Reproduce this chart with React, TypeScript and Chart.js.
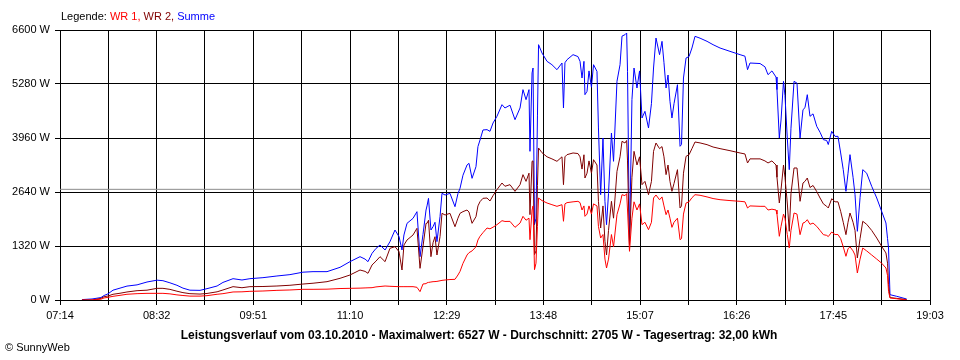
import React, { useEffect, useRef } from "react";
import { Chart, registerables } from "chart.js";

Chart.register(...registerables);

// minutes since midnight
const times = [
  451.9, 460.1, 467.4, 469.9, 473.1, 477.2, 482.9, 488.6, 496.8, 504.9,
  513.1, 517.9, 523.6, 529.3, 534.2, 539.9, 548.1, 553.8, 562.0, 566.8,
  575.0, 582.3, 588.8, 599.4, 610.8, 621.4, 632.0, 640.2, 651.6, 662.2,
  670.3, 678.5, 682.6, 685.0, 688.3, 691.5, 694.8, 698.9, 702.9, 707.0,
  710.3, 712.7, 714.3, 716.8, 721.7, 724.9, 727.4, 729.8, 732.3, 733.1,
  734.3, 736.3, 738.0, 739.6, 741.2, 743.7, 745.3, 747.8, 751.8, 755.9,
  758.3, 760.0, 762.4, 765.7, 767.3, 769.8, 773.0, 774.6, 776.3, 778.7,
  782.0, 784.4, 786.9, 790.1, 794.2, 796.6, 800.7, 804.8, 808.9, 811.3,
  813.8, 816.2, 817.0, 818.7, 819.5, 820.7, 821.9, 823.1, 824.0, 826.8,
  830.9, 834.9, 839.0, 843.1, 844.3, 845.5, 847.2, 852.1, 856.1, 857.8,
  859.4, 861.0, 861.8, 863.5, 865.1, 867.1, 868.8, 871.6, 872.8, 874.6,
  876.5, 878.1, 879.4, 881.0, 883.4, 885.1, 887.9, 890.4, 892.0, 894.4,
  895.8, 896.5, 898.1, 900.1, 901.8, 904.2, 906.3, 908.3, 910.7, 913.6,
  916.0, 917.7, 919.7, 922.6, 924.6, 926.2, 927.9, 929.5, 931.1, 932.7,
  934.4, 937.2, 939.3, 940.5, 942.1, 944.2, 946.6, 949.0, 951.5, 955.6,
  961.3, 966.2, 971.9, 980.0, 988.2, 992.2, 994.3, 996.3, 1004.5, 1008.5,
  1011.0, 1014.2, 1017.5, 1018.3, 1020.2, 1021.6, 1023.6, 1024.8, 1026.7, 1028.3,
  1029.7, 1032.2, 1034.6, 1037.1, 1039.5, 1041.1, 1043.0, 1045.2, 1047.7, 1050.7,
  1053.4, 1056.1, 1058.8, 1060.1, 1062.9, 1065.6, 1068.0, 1070.2, 1072.3, 1074.5,
  1076.2, 1077.8, 1080.3, 1081.9, 1083.8, 1086.0, 1088.2, 1091.4, 1095.5, 1099.6,
  1103.6, 1107.1, 1108.4, 1109.2, 1110.4, 1115.9, 1124.0,
];

const wr1 = [
  0, 0, 20, 50, 65, 90, 114, 140, 155, 163,
  163, 163, 150, 125, 110, 95, 95, 106, 140, 155,
  196, 200, 212, 220, 236, 245, 261, 261, 265, 280,
  285, 290, 295, 298, 301, 320, 330, 342, 335, 330,
  326, 326, 326, 326, 326, 310, 204, 391, 400, 420,
  430, 440, 448, 450, 455, 470, 480, 489, 500, 505,
  611, 700, 896, 1100, 1157, 1200, 1300, 1467, 1557, 1646,
  1760, 1740, 1780, 1841, 1939, 1920, 1922, 1776, 1880, 2045,
  1950, 2000, 1474, 2200, 2300, 741, 900, 1800, 2493, 2430,
  2371, 2330, 2290, 2330, 1924, 2350, 2380, 2400, 2412, 2380,
  2200, 2300, 2045, 2100, 2300, 2100, 2350, 2300, 1800, 1515,
  1600, 1000, 782, 1000, 1600, 1300, 2086, 2350, 2574, 2550,
  2600, 2200, 1190, 2000, 2400, 2200, 2350, 1841, 1900, 1719,
  1900, 2493, 2567, 2450, 2520, 2300, 2086, 2200, 2000, 1776,
  1900, 2000, 1475, 1500, 2100, 2371, 2400, 2500, 2574, 2560,
  2520, 2480, 2452, 2430, 2412, 2400, 2249, 2300, 2290, 2290,
  2200, 2220, 2200, 2100, 1557, 1800, 2100, 2000, 1600, 1271,
  1700, 2127, 2100, 1597, 1882, 1900, 1963, 1850, 1880, 1800,
  1700, 1597, 1580, 1550, 1662, 1600, 1600, 1500, 1300, 1068,
  1250, 1300, 1200, 1100, 660, 1000, 1271, 1200, 1100, 1000,
  900, 782, 600, 212, 50, 30, 0,
];

const wr2 = [
  0, 0, 40, 80, 98, 140, 165, 196, 228, 240,
  285, 285, 260, 215, 180, 155, 145, 160, 200, 245,
  326, 300, 326, 330, 342, 360, 390, 410, 448, 530,
  611, 733, 700, 652, 856, 950, 1059, 937, 1263, 1304,
  1182, 733, 1344, 1467, 1589, 1752, 774, 1304, 1874, 1874,
  1950, 1059, 1400, 1548, 1100, 1548, 2119, 2078, 2119, 1792,
  2000, 2119, 2160, 2200, 2150, 1874, 2037, 2300, 2404, 2485,
  2493, 2420, 2550, 2697, 2860, 2780, 2819, 2656, 2819, 3064,
  2900, 3100, 2086, 3390, 3400, 1108, 1200, 2800, 3716, 3600,
  3500, 3450, 3390, 3500, 2819, 3500, 3553, 3594, 3580, 3500,
  3200, 3550, 2982, 3100, 3400, 3100, 3430, 3300, 2412, 1760,
  2300, 1435, 1100, 1700, 2412, 2000, 3145, 3500, 3879, 3838,
  3900, 3400, 1352, 3000, 3634, 3300, 3500, 2819, 2900, 2574,
  2900, 3634, 3838, 3700, 3750, 3500, 3064, 3300, 2900, 2656,
  2850, 3186, 2249, 2300, 3100, 3512, 3550, 3700, 3862, 3840,
  3797, 3740, 3700, 3650, 3594, 3570, 3349, 3450, 3450, 3400,
  3350, 3400, 3300, 3000, 2371, 2700, 3300, 3000, 2371, 1679,
  2600, 3227, 3227, 2412, 2860, 2900, 2982, 2750, 2800, 2650,
  2493, 2350, 2290, 2250, 2476, 2400, 2400, 2167, 1900, 1597,
  1900, 2127, 1900, 1700, 1027, 1500, 1924, 1850, 1700, 1515,
  1312, 1150, 900, 375, 60, 40, 10,
];

const summe = [
  10, 25, 60, 110, 150, 240, 290, 340, 370, 440,
  485, 472, 420, 360, 290, 240, 236, 277, 342, 430,
  521, 489, 521, 546, 587, 620, 680, 693, 693, 799,
  937, 1059, 1000, 937, 1141, 1260, 1344, 1222, 1426, 1711,
  1548, 1222, 1589, 1874, 1996, 2159, 1059, 1600, 2200, 2300,
  2485, 1711, 1792, 1900, 1426, 2037, 2607, 2567, 2607, 2281,
  2600, 2730, 3050, 3300, 3341, 2974, 3259, 3750, 3911, 4156,
  4164, 4123, 4327, 4490, 4775, 4694, 4762, 4408, 4694, 5142,
  4897, 5142, 3634, 5550, 5671, 1841, 2000, 4500, 6241, 6038,
  5834, 5752, 5630, 5793, 4693, 5800, 5874, 5997, 5950, 5834,
  5427, 5834, 5019, 5100, 5600, 5200, 5752, 5589, 4205, 2574,
  3960, 2412, 1841, 2600, 4082, 3390, 5345, 5752, 6450, 6485,
  6527, 5590, 1352, 4900, 5671, 5182, 5600, 4449, 4612, 4205,
  4800, 5671, 6404, 5997, 6323, 5800, 5182, 5500, 4857, 4449,
  4800, 5263, 3757, 3800, 5427, 5915, 5950, 6160, 6445, 6400,
  6323, 6241, 6160, 6078, 5997, 5960, 5630, 5793, 5780, 5700,
  5508, 5600, 5450, 5142, 3960, 4400, 5345, 5000, 3960, 3186,
  4200, 5345, 5300, 3960, 4653, 4700, 5019, 4490, 4550, 4245,
  4100, 3919, 3900, 3800, 4123, 4000, 4000, 3594, 3186, 2656,
  3100, 3553, 3000, 2574, 1679, 2500, 3186, 3100, 2778, 2493,
  2167, 1882, 1500, 1271, 130, 90, 24,
];

const xTickLabels = ["07:14", "08:32", "09:51", "11:10", "12:29", "13:48", "15:07", "16:26", "17:45", "19:03"];
const xMin = 434; // 07:14
const xMax = 1143; // 19:03
const average = 2705;

const legendParts: [string, string][] = [
  ["Legende: ", "#000000"],
  ["WR 1, ", "#ff0000"],
  ["WR 2, ", "#800000"],
  ["Summe", "#0000ff"],
];
const footerTitle = "Leistungsverlauf vom 03.10.2010 - Maximalwert: 6527 W - Durchschnitt: 2705 W - Tagesertrag: 32,00 kWh";
const copyright = "\u00a9 SunnyWeb";

const FONT = '"Liberation Sans", Arial, sans-serif';

export default function App() {
  const ref = useRef<HTMLCanvasElement | null>(null);
  useEffect(() => {
    document.body.style.margin = "0";
    const canvas = ref.current!;
    const toPts = (arr: number[]) => times.map((t, i) => ({ x: t, y: arr[i] }));
    const textPlugin = {
      id: "texts",
      afterDraw(chart: any) {
        const ctx = chart.ctx;
        ctx.save();
        ctx.textBaseline = "middle";
        ctx.textAlign = "left";
        ctx.font = `11px ${FONT}`;
        let x = 61;
        for (const [t, c] of legendParts) {
          ctx.fillStyle = c;
          ctx.fillText(t, x, 17);
          x += ctx.measureText(t).width;
        }
        ctx.fillStyle = "#000";
        ctx.font = `bold 12px ${FONT}`;
        ctx.textAlign = "center";
        ctx.fillText(footerTitle, 479, 336);
        ctx.font = `11px ${FONT}`;
        ctx.textAlign = "left";
        ctx.fillText(copyright, 5, 348);
        ctx.restore();
      },
    };
    const chart = new Chart(canvas, {
      type: "line",
      data: {
        datasets: [
          { label: "WR 1", data: toPts(wr1), borderColor: "#ff0000", borderWidth: 1, pointRadius: 0, fill: false, tension: 0 },
          { label: "WR 2", data: toPts(wr2), borderColor: "#800000", borderWidth: 1, pointRadius: 0, fill: false, tension: 0 },
          { label: "Summe", data: toPts(summe), borderColor: "#0000ff", borderWidth: 1, pointRadius: 0, fill: false, tension: 0 },
          {
            label: "Durchschnitt",
            data: [{ x: xMin, y: average }, { x: xMax, y: average }],
            borderColor: "#8c8c8c",
            borderWidth: 1,
            pointRadius: 0,
            fill: false,
          },
        ],
      },
      options: {
        animation: false,
        responsive: false,
        devicePixelRatio: 1,
        layout: { padding: { left: 0, right: 30, top: 30, bottom: 35 } },
        plugins: { legend: { display: false }, tooltip: { enabled: false }, title: { display: false } },
        scales: {
          x: {
            type: "linear",
            min: xMin,
            max: xMax,
            afterBuildTicks: (scale: any) => {
              const ticks = [];
              for (let i = 0; i <= 18; i++) ticks.push({ value: xMin + (i * (xMax - xMin)) / 18 });
              scale.ticks = ticks;
            },
            afterFit: (scale: any) => {
              scale.height = 25;
            },
            ticks: {
              autoSkip: false,
              maxRotation: 0,
              minRotation: 0,
              padding: 4,
              color: "#000",
              font: { family: FONT, size: 11 },
              callback: (_v: any, i: number) => (i % 2 === 0 ? xTickLabels[i / 2] : ""),
            },
            grid: { color: "#000", lineWidth: 1, tickLength: 5, drawTicks: true },
            border: { color: "#000", width: 1 },
          },
          y: {
            min: 0,
            max: 6600,
            afterFit: (scale: any) => {
              scale.width = 60;
            },
            ticks: {
              stepSize: 1320,
              padding: 5,
              color: "#000",
              font: { family: FONT, size: 11 },
              callback: (v: any) => `${v} W`,
            },
            grid: { color: "#000", lineWidth: 1, tickLength: 5, drawTicks: true },
            border: { color: "#000", width: 1 },
          },
        },
      },
      plugins: [textPlugin],
    } as any);
    return () => chart.destroy();
  }, []);
  return (
    <div style={{ width: 960, height: 360, background: "#fff" }}>
      <canvas ref={ref} width={960} height={360} style={{ width: 960, height: 360, display: "block" }} />
    </div>
  );
}
